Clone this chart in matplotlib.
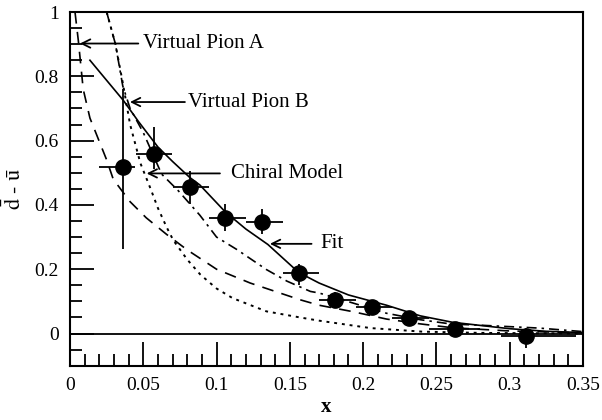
import numpy as np
import matplotlib
matplotlib.use('Agg')
import matplotlib.pyplot as plt
from matplotlib.ticker import MultipleLocator, FixedLocator, FuncFormatter

plt.rcParams['font.family'] = ['Liberation Serif', 'DejaVu Serif']
plt.rcParams['mathtext.fontset'] = 'stix'

# measured points (d-bar minus u-bar)
x_data = [0.036, 0.057, 0.082, 0.106, 0.131, 0.156, 0.181, 0.206, 0.231, 0.263, 0.311]
y_data = [0.518, 0.558, 0.457, 0.360, 0.348, 0.187, 0.105, 0.081, 0.048, 0.015, -0.007]
x_lo = [0.020, 0.045, 0.070, 0.095, 0.120, 0.145, 0.170, 0.195, 0.220, 0.245, 0.294]
x_hi = [0.0445, 0.0695, 0.095, 0.120, 0.145, 0.170, 0.195, 0.220, 0.245, 0.280, 0.345]
y_lo = [0.263, 0.512, 0.403, 0.319, 0.311, 0.152, 0.080, 0.060, 0.030, 0.000, -0.046]
y_hi = [0.760, 0.642, 0.506, 0.403, 0.388, 0.217, 0.130, 0.100, 0.068, 0.030, 0.017]

# Fit (solid)
fit_x = [0.0136, 0.0227, 0.0364, 0.0466, 0.060, 0.070, 0.0818, 0.0886, 0.106, 0.120,
         0.135, 0.156, 0.170, 0.190, 0.216, 0.239, 0.261, 0.300, 0.325, 0.350]
fit_y = [0.850, 0.800, 0.725, 0.660, 0.580, 0.535, 0.485, 0.462, 0.378, 0.325,
         0.277, 0.190, 0.157, 0.120, 0.088, 0.055, 0.035, 0.015, 0.007, 0.003]

# Virtual Pion A (long dash)
pa_x = [0.0034, 0.0057, 0.009, 0.0136, 0.018, 0.025, 0.0295, 0.041, 0.052, 0.066,
        0.080, 0.100, 0.123, 0.157, 0.170, 0.193, 0.216, 0.239, 0.261, 0.300, 0.350]
pa_y = [1.000, 0.910, 0.760, 0.670, 0.620, 0.540, 0.480, 0.410, 0.360, 0.308,
        0.260, 0.200, 0.157, 0.105, 0.088, 0.068, 0.045, 0.030, 0.018, 0.008, 0.002]

# Virtual Pion B (dash-dot)
pb_x = [0.025, 0.031, 0.036, 0.041, 0.050, 0.0625, 0.0739, 0.0886, 0.100, 0.1136,
        0.134, 0.148, 0.164, 0.170, 0.193, 0.216, 0.239, 0.261, 0.275, 0.320, 0.350]
pb_y = [1.000, 0.900, 0.770, 0.700, 0.625, 0.496, 0.444, 0.368, 0.300, 0.262,
        0.199, 0.163, 0.131, 0.126, 0.095, 0.063, 0.043, 0.029, 0.027, 0.017, 0.006]

# Chiral Model (dotted)
cm_x = [0.025, 0.031, 0.036, 0.041, 0.048, 0.055, 0.060, 0.066, 0.0705, 0.080,
        0.089, 0.100, 0.111, 0.134, 0.157, 0.170, 0.205, 0.240, 0.280, 0.350]
cm_y = [1.000, 0.900, 0.780, 0.650, 0.530, 0.450, 0.390, 0.330, 0.290, 0.230,
        0.183, 0.140, 0.110, 0.069, 0.050, 0.040, 0.017, 0.006, 0.002, 0.000]

x_ticks = [0, 0.05, 0.1, 0.15, 0.2, 0.25, 0.3, 0.35]
y_ticks = [0, 0.2, 0.4, 0.6, 0.8, 1.0]

fig = plt.figure(figsize=(6.02, 4.2), dpi=100)
ax = fig.add_axes([0.1163, 0.1293, 0.8521, 0.8421])

ax.axhline(0, color='black', lw=1.3)

ax.plot(fit_x, fit_y, color='black', lw=1.2, linestyle='-')
ax.plot(pa_x, pa_y, color='black', lw=1.2, linestyle=(0, (7, 5)))
ax.plot(pb_x, pb_y, color='black', lw=1.2, linestyle=(0, (6, 3, 1.5, 3)))
ax.plot(cm_x, cm_y, color='black', lw=1.4, linestyle=(0, (1.5, 2.5)))

xd = np.array(x_data)
yd = np.array(y_data)
xerr = [xd - np.array(x_lo), np.array(x_hi) - xd]
yerr = [yd - np.array(y_lo), np.array(y_hi) - yd]
ax.errorbar(xd, yd, xerr=xerr, yerr=yerr, fmt='o', color='black', ms=11,
            elinewidth=1.3, capsize=0)

arrow = dict(arrowstyle='->,head_length=0.6,head_width=0.3', lw=1.3, color='black',
             shrinkA=0, shrinkB=0)
labels = [
    ('Virtual Pion A', (0.0068, 0.902), (0.0466, 0.902), 0.050),
    ('Virtual Pion B', (0.0409, 0.720), (0.0784, 0.720), 0.0805),
    ('Chiral Model', (0.0523, 0.498), (0.1023, 0.498), 0.110),
    ('Fit', (0.1364, 0.279), (0.1648, 0.279), 0.1705),
]
for text, tip, tail, tx in labels:
    ax.annotate('', xy=tip, xytext=tail, arrowprops=arrow)
    ax.text(tx, tip[1], text, fontsize=15, va='center', ha='left')

ax.set_xlim(0, 0.35)
ax.set_ylim(-0.1, 1.0)
ax.xaxis.set_major_locator(FixedLocator(x_ticks))
ax.xaxis.set_minor_locator(MultipleLocator(0.01))
ax.yaxis.set_major_locator(FixedLocator(y_ticks))
ax.yaxis.set_minor_locator(MultipleLocator(0.05))
fmt = FuncFormatter(lambda v, p: '%g' % round(v, 3))
ax.xaxis.set_major_formatter(fmt)
ax.yaxis.set_major_formatter(fmt)
ax.tick_params(which='both', direction='in', top=False, right=False, labelsize=14)
ax.tick_params(which='major', length=17, width=1.3, pad=8)
ax.tick_params(which='minor', length=8.5, width=1.3)
for s in ax.spines.values():
    s.set_linewidth(1.5)

ax.set_xlabel('x', fontsize=15, fontweight='bold', labelpad=2)
ax.set_ylabel(r'$\mathrm{\bar{d}\ \text{-}\ \bar{u}}$', fontsize=16, labelpad=6)

fig.savefig('out.png', dpi=100)
